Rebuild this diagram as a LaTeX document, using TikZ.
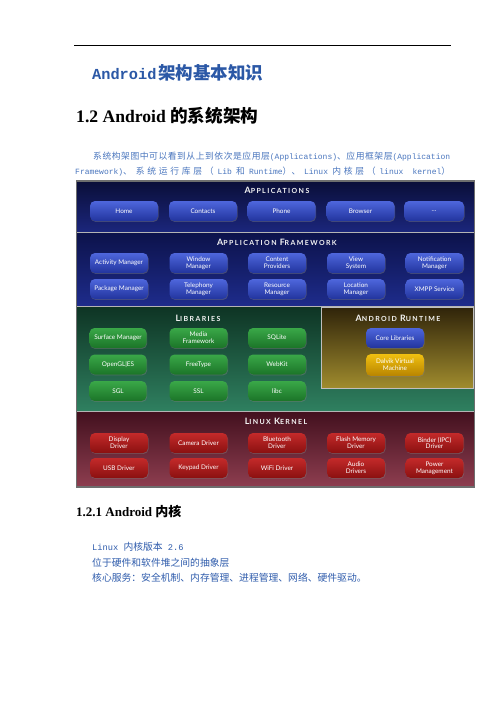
\documentclass[tikz,border=0pt]{standalone}
\usepackage{fontspec}
\setmainfont{Liberation Serif}
\newfontfamily\cjk{Noto Sans CJK SC}
\newfontfamily\mono{Liberation Mono}
\newfontfamily\lbl{Lato}
\newfontfamily\capsfont[LetterSpace=20]{Lato}
\usetikzlibrary{shadows}
\XeTeXlinebreaklocale "zh"
\XeTeXlinebreakskip=0pt plus 1.5pt
\definecolor{titleblue}{HTML}{2B58A6}
\definecolor{parablue}{HTML}{4A76BE}
\definecolor{textblue}{HTML}{2F5CAC}
\definecolor{appTop}{HTML}{0A0E38}
\definecolor{appBot}{HTML}{1B267C}
\definecolor{fwTop}{HTML}{0C124A}
\definecolor{fwBot}{HTML}{1E2C8C}
\definecolor{libTop}{HTML}{0E3424}
\definecolor{libBot}{HTML}{2F8060}
\definecolor{rtTop}{HTML}{30240A}
\definecolor{rtBot}{HTML}{A08C2E}
\definecolor{kTop}{HTML}{42101E}
\definecolor{kBot}{HTML}{8E3E50}
\definecolor{bbTop}{HTML}{4E66DC}
\definecolor{bbBot}{HTML}{22349E}
\definecolor{gbTop}{HTML}{3AA848}
\definecolor{gbBot}{HTML}{1B7428}
\definecolor{ybTop}{HTML}{F0C010}
\definecolor{ybBot}{HTML}{B88400}
\definecolor{rbTop}{HTML}{C42A2A}
\definecolor{rbBot}{HTML}{8A1010}
\definecolor{edgeGray}{HTML}{6E6E6E}
\definecolor{divGray}{HTML}{B4B4B4}
\newcommand\ptitle[2]{{\fontsize{8.8}{9}\selectfont #1}#2}
\tikzset{
  btn/.style={rounded corners=5pt, minimum height=20pt, inner sep=0pt,
    text=white, align=center, font=\lbl\fontsize{6.4}{6.8}\selectfont,
    drop shadow={opacity=0.45, shadow xshift=0.6pt, shadow yshift=-0.9pt}},
  bluebtn/.style={btn, top color=bbTop, bottom color=bbBot},
  greenbtn/.style={btn, top color=gbTop, bottom color=gbBot},
  yellowbtn/.style={btn, top color=ybTop, bottom color=ybBot},
  redbtn/.style={btn, top color=rbTop, bottom color=rbBot},
  ptitlenode/.style={text=white!92!gray, inner sep=0pt,
    font=\capsfont\bfseries\fontsize{7}{8}\selectfont},
  divider/.style={draw=divGray, line width=0.9pt},
}
\begin{document}
\begin{tikzpicture}[x=1pt, y=-1pt]
\useasboundingbox (0,0) rectangle (496,702);
\fill[white] (0,0) rectangle (496,702);

% header rule
\draw[black, line width=0.8pt] (74,45) -- (451,45);

% title
\node[anchor=base west, inner sep=0pt, text=titleblue] (title) at (92,79)
  {{\mono\bfseries\fontsize{15.3}{18}\selectfont Android}\hspace{2pt}{\cjk\bfseries\fontsize{17.5}{20}\selectfont 架构基本知识}};

% heading
\node[anchor=base west, inner sep=0pt] (heading) at (76,122.5)
  {{\bfseries\fontsize{17.6}{20}\selectfont 1.2 Android }{\cjk\bfseries\fontsize{17.6}{20}\selectfont 的系统架构}};

% paragraph
\node[anchor=base west, inner sep=0pt, text=parablue] (para) at (75,159.5)
  {\parbox[t]{375pt}{\fontsize{8.8}{15}\selectfont\parfillskip=0pt
   \hspace*{18pt}{\cjk 系统构架图中可以看到从上到依次是应用层}{\mono\fontsize{8}{15}\selectfont (Applications)}{\cjk 、应用框架层}{\mono\fontsize{8}{15}\selectfont (Application}\linebreak
   {\mono\fontsize{8}{15}\selectfont Framework)}{\cjk 、 系统运行库层（ }{\mono\fontsize{8}{15}\selectfont Lib} {\cjk 和} {\mono\fontsize{8}{15}\selectfont Runtime}{\cjk ）、 }{\mono\fontsize{8}{15}\selectfont Linux} {\cjk 内核层（ }{\mono\fontsize{8}{15}\selectfont linux kernel}{\cjk ）}\par}};

% ---------- diagram panels ----------
\fill[top color=appTop, bottom color=appBot] (76.5,181) rectangle (474.5,232);
\fill[top color=fwTop, bottom color=fwBot] (76.5,232) rectangle (474.5,306.5);
\fill[top color=libTop, bottom color=libBot] (76.5,306.5) rectangle (474.5,411);
\fill[top color=kTop, bottom color=kBot] (76.5,411) rectangle (474.5,487);
\fill[top color=rtTop, bottom color=rtBot] (321,307.5) rectangle (473,388);
\draw[draw=divGray!85!white, line width=0.8pt] (321,307.5) rectangle (473,388);
\draw[divider] (76.5,232) -- (474.5,232);
\draw[divider] (76.5,306.5) -- (474.5,306.5);
\draw[divider] (76.5,411) -- (474.5,411);
\draw[draw=edgeGray, line width=1.4pt] (76.5,181) rectangle (474.5,487);

% panel titles
\node[ptitlenode] (tApps) at (277,190) {\ptitle{A}{PPLICATIONS}};
\node[ptitlenode] (tFw) at (277,242) {\ptitle{A}{PPLICATION} \ptitle{F}{RAMEWORK}};
\node[ptitlenode] (tLib) at (198,318) {\ptitle{L}{IBRARIES}};
\node[ptitlenode] (tRt) at (398,318) {\ptitle{A}{NDROID} \ptitle{R}{UNTIME}};
\node[ptitlenode] (tK) at (276,421) {\ptitle{L}{INUX} \ptitle{K}{ERNEL}};

% applications
\node[bluebtn, minimum width=68pt] (home) at (124,211) {Home};
\node[bluebtn, minimum width=68pt] (contacts) at (203,211) {Contacts};
\node[bluebtn, minimum width=68pt] (phone) at (281.5,211) {Phone};
\node[bluebtn, minimum width=68pt] (browser) at (360.5,211) {Browser};
\node[bluebtn, minimum width=60pt] (more) at (434,211) {\dots};

% application framework
\node[bluebtn, minimum width=58pt] (am) at (119,263) {Activity Manager};
\node[bluebtn, minimum width=58pt] (wm) at (198.5,263) {Window\\Manager};
\node[bluebtn, minimum width=58pt] (cp) at (277,263) {Content\\Providers};
\node[bluebtn, minimum width=58pt] (vs) at (356,263) {View\\System};
\node[bluebtn, minimum width=58pt] (nm) at (434.5,263) {Notification\\Manager};
\node[bluebtn, minimum width=58pt] (pm) at (119,289) {Package Manager};
\node[bluebtn, minimum width=58pt] (tm) at (198.5,289) {Telephony\\Manager};
\node[bluebtn, minimum width=58pt] (rm) at (277,289) {Resource\\Manager};
\node[bluebtn, minimum width=58pt] (lm) at (356,289) {Location\\Manager};
\node[bluebtn, minimum width=58pt] (xmpp) at (434.5,289) {XMPP Service};

% libraries
\node[greenbtn, minimum width=57pt] (sm) at (118,338) {Surface Manager};
\node[greenbtn, minimum width=58pt] (mf) at (198.5,338) {Media\\Framework};
\node[greenbtn, minimum width=58pt] (sqlite) at (277,338) {SQLite};
\node[greenbtn, minimum width=57pt] (gl) at (118,364.5) {OpenGL|ES};
\node[greenbtn, minimum width=58pt] (ft) at (198.5,364.5) {FreeType};
\node[greenbtn, minimum width=58pt] (wk) at (277,364.5) {WebKit};
\node[greenbtn, minimum width=57pt] (sgl) at (118,391) {SGL};
\node[greenbtn, minimum width=58pt] (ssl) at (198.5,391) {SSL};
\node[greenbtn, minimum width=58pt] (libc) at (277,391) {libc};

% android runtime
\node[bluebtn, minimum width=58pt] (core) at (395,338) {Core Libraries};
\node[yellowbtn, minimum width=58pt, minimum height=22pt] (dvm) at (395,365) {Dalvik Virtual\\Machine};

% linux kernel
\node[redbtn, minimum width=58pt] (disp) at (119,443) {Display\\Driver};
\node[redbtn, minimum width=58pt] (cam) at (198.5,443) {Camera Driver};
\node[redbtn, minimum width=58pt] (bt) at (277,443) {Bluetooth\\Driver};
\node[redbtn, minimum width=58pt] (flash) at (356,443) {Flash Memory\\Driver};
\node[redbtn, minimum width=58pt] (binder) at (434.5,443) {Binder (IPC)\\Driver};
\node[redbtn, minimum width=58pt] (usb) at (119,468) {USB Driver};
\node[redbtn, minimum width=58pt] (kp) at (198.5,468) {Keypad Driver};
\node[redbtn, minimum width=58pt] (wifi) at (277,468) {WiFi Driver};
\node[redbtn, minimum width=58pt] (audio) at (356,468) {Audio\\Drivers};
\node[redbtn, minimum width=58pt] (power) at (434.5,468) {Power\\Management};

% section 1.2.1
\node[anchor=base west, inner sep=0pt] (sub) at (76,516.5)
  {{\bfseries\fontsize{13}{15}\selectfont 1.2.1 Android }{\cjk\bfseries\fontsize{13}{15}\selectfont 内核}};
\node[anchor=base west, inner sep=0pt, text=textblue] (l1) at (92,550.5)
  {{\mono\fontsize{8.7}{10}\selectfont Linux }{\cjk\fontsize{9.8}{11}\selectfont 内核版本}{\mono\fontsize{8.7}{10}\selectfont{} 2.6}};
\node[anchor=base west, inner sep=0pt, text=textblue] (l2) at (92,566.5)
  {{\cjk\fontsize{9.8}{11}\selectfont 位于硬件和软件堆之间的抽象层}};
\node[anchor=base west, inner sep=0pt, text=textblue] (l3) at (92,581.5)
  {{\cjk\fontsize{9.8}{11}\selectfont 核心服务：安全机制、内存管理、进程管理、网络、硬件驱动。}};
\end{tikzpicture}
\end{document}
